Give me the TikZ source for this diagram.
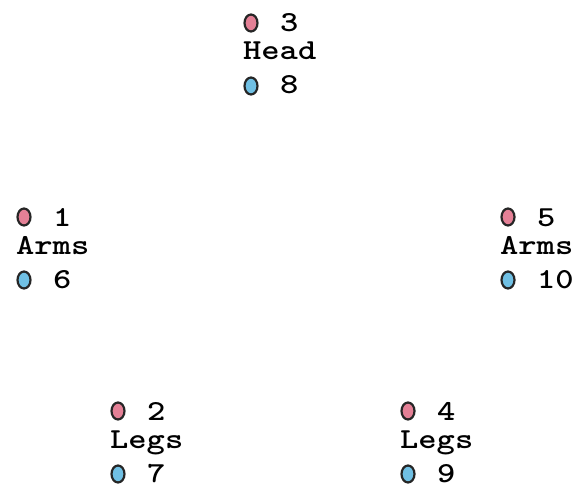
\documentclass[tikz,border=0pt]{standalone}
\usepackage{fontspec}
\usetikzlibrary{positioning, shapes.geometric}
\definecolor{dotpink}{RGB}{228,128,150}
\definecolor{dotblue}{RGB}{112,192,228}
\newcommand{\widetxt}[1]{\scalebox{1.2}[1]{#1}}

\begin{document}
\begin{tikzpicture}[
    x=1pt, y=-1pt,
    every node/.style={font=\ttfamily\bfseries\fontsize{29}{32}\selectfont, inner sep=0pt, anchor=base west},
    pinkmark/.style={ellipse, draw=black!85, line width=2.2pt, fill=dotpink, minimum width=13pt, minimum height=17pt, anchor=center},
    bluemark/.style={pinkmark, fill=dotblue}
]
\useasboundingbox (0,0) rectangle (576,487);
% one group per body part: mark + number, label, mark + number
\foreach \px/\py/\part/\upnum/\lownum/\id in {
    243/60/Head/3/8/head,
    16/254/Arms/1/6/larm,
    500/254/Arms/5/10/rarm,
    110/448/Legs/2/7/lleg,
    400/448/Legs/4/9/rleg} {
  \begin{scope}[shift={(\px,\py)}]
    \node (\id) at (0,0) {\widetxt{\part}};
    \node[pinkmark] (\id-upmark) at (8,-37) {};
    \node (\id-upnum) at (37,-28) {\widetxt{\upnum}};
    \node[bluemark] (\id-lowmark) at (8,26) {};
    \node (\id-lownum) at (37,34) {\widetxt{\lownum}};
  \end{scope}
}
\end{tikzpicture}
\end{document}
